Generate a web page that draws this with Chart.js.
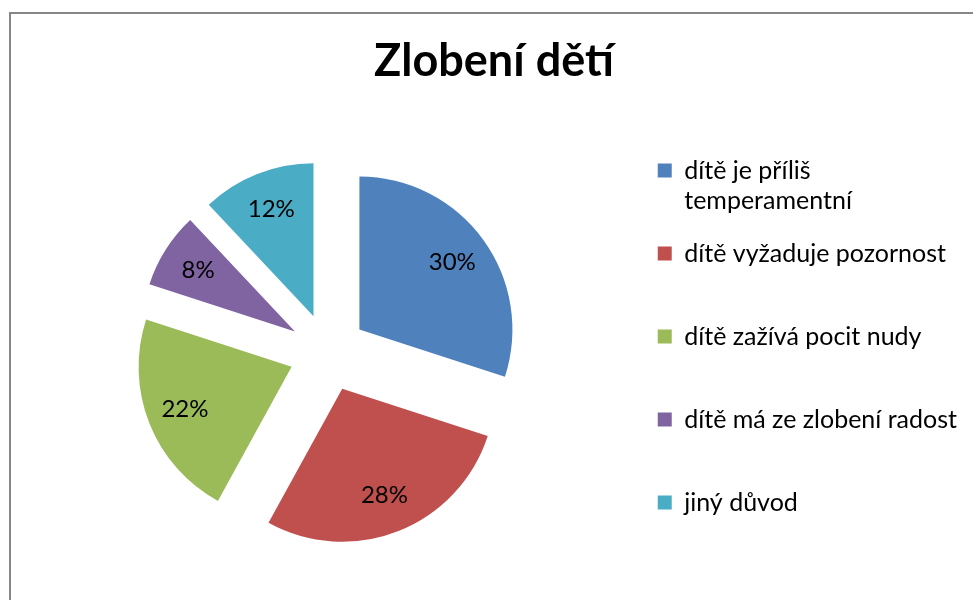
<!DOCTYPE html>
<html>
<head>
<meta charset="utf-8">
<script src="https://cdn.jsdelivr.net/npm/chart.js@4.4.1/dist/chart.umd.min.js"></script>
<style>
  html, body { margin: 0; padding: 0; background: #ffffff; overflow: hidden; }
  #frame { position: absolute; left: 9px; top: 12px; width: 1000px; height: 1000px; border: 2px solid #868686; box-sizing: border-box; }
  #wrap { position: absolute; left: 0; top: 0; width: 973px; height: 600px; }
</style>
</head>
<body>
<div id="frame"></div>
<div id="wrap"><canvas id="c" width="973" height="600"></canvas></div>
<script>
const titleText = 'Zlobení dětí';
const categories = [
  ['dítě je příliš', 'temperamentní'],
  ['dítě vyžaduje pozornost', ''],
  ['dítě zažívá pocit nudy', ''],
  ['dítě má ze zlobení radost', ''],
  'jiný důvod'
];
const values = [30, 28, 22, 8, 12];
const colors = ['#4F81BD', '#C0504D', '#9BBB59', '#8064A2', '#4BACC6'];

const FONT = 'Lato, "Open Sans", sans-serif';

// Exploded pie: push every slice outward along its bisector (uniform distance, like Excel explosion)
const explode = {
  id: 'explode',
  afterDatasetsUpdate(chart, args, opts) {
    const d = opts.distance || 0;
    chart.getDatasetMeta(0).data.forEach(arc => {
      const mid = (arc.startAngle + arc.endAngle) / 2;
      arc.x += Math.cos(mid) * d;
      arc.y += Math.sin(mid) * d;
    });
  }
};

const pctLabels = {
  id: 'pctLabels',
  afterDatasetsDraw(chart) {
    const ctx = chart.ctx;
    const meta = chart.getDatasetMeta(0);
    const ds = chart.data.datasets[0];
    const total = ds.data.reduce((a, b) => a + b, 0);
    ctx.save();
    ctx.font = '24px Lato';
    ctx.fillStyle = '#000000';
    ctx.textAlign = 'center';
    ctx.textBaseline = 'middle';
    meta.data.forEach((arc, i) => {
      const mid = (arc.startAngle + arc.endAngle) / 2;
      const r = arc.outerRadius * 0.75;
      const x = arc.x + Math.cos(mid) * r;
      const y = arc.y + Math.sin(mid) * r;
      ctx.fillText(Math.round(ds.data[i] / total * 100) + '%', x, y);
    });
    ctx.restore();
  }
};

new Chart(document.getElementById('c'), {
  type: 'pie',
  data: {
    labels: categories,
    datasets: [{
      data: values,
      backgroundColor: colors,
      borderWidth: 0,
      radius: 153,
      clip: false
    }]
  },
  options: {
    responsive: false,
    animation: false,
    layout: { padding: { left: 21, right: 6, top: 0, bottom: 30 } },
    plugins: {
      explode: { distance: 39 },
      title: {
        display: true,
        text: titleText,
        color: '#000000',
        font: { family: FONT, size: 45, weight: 'bold', lineHeight: 1.2 },
        padding: { top: 34, bottom: 47 }
      },
      legend: {
        position: 'right',
        align: 'start',
        fullSize: false,
        labels: {
          boxWidth: 14,
          boxHeight: 14,
          padding: 23,
          color: '#000000',
          font: { family: FONT, size: 25, lineHeight: 1.2 }
        }
      },
      tooltip: { enabled: false }
    }
  },
  plugins: [explode, pctLabels]
});
</script>
</body>
</html>
